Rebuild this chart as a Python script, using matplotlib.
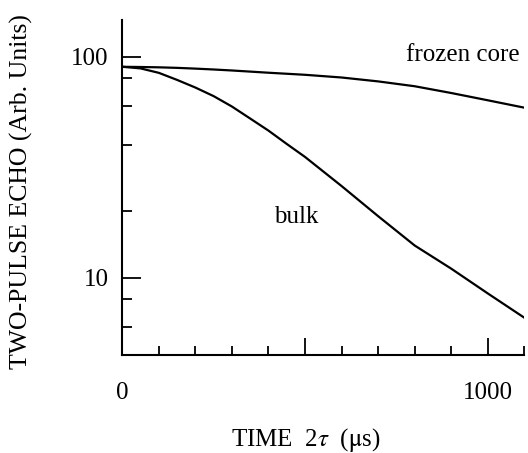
import numpy as np
import matplotlib
matplotlib.use("Agg")
import matplotlib.pyplot as plt
from matplotlib.ticker import FixedLocator, NullFormatter

plt.rcParams['font.family'] = ['Liberation Serif', 'DejaVu Serif']
plt.rcParams['mathtext.fontset'] = 'stix'

# time 2tau in microseconds
time_us = [0, 50, 100, 150, 200, 250, 300, 350, 400, 450, 500,
           600, 700, 800, 900, 1000, 1100]
# echo amplitudes
frozen_core = [90, 89.8, 89.5, 89.0, 88.3, 87.5, 86.6, 85.6, 84.6, 83.7, 82.8,
               80.5, 77.3, 73.5, 68.5, 63.5, 58.8]
bulk = [90, 88.5, 84.5, 78.5, 72.5, 66.3, 59.5, 52.5, 46.3, 40.3, 35.2,
        26.0, 19.0, 14.0, 11.0, 8.5, 6.6]

x_major = [0, 500, 1000]
x_major_labels = ['0', '', '1000']
x_minor = [100, 200, 300, 400, 600, 700, 800, 900, 1100]
y_major = [10, 100]
y_major_labels = ['10', '100']
y_minor = [6, 8, 20, 40, 60, 80]

fig = plt.figure(figsize=(5.28, 4.53), dpi=100)
ax = fig.add_axes([0.2316, 0.217, 0.993 - 0.2316, 0.956 - 0.217])

ax.plot(time_us, frozen_core, color='black', lw=1.6)
ax.plot(time_us, bulk, color='black', lw=1.6)

ax.set_yscale('log')
ax.set_xlim(0, 1100)
ax.set_ylim(4.49, 146.6)

ax.xaxis.set_major_locator(FixedLocator(x_major))
ax.set_xticklabels(x_major_labels)
ax.xaxis.set_minor_locator(FixedLocator(x_minor))
ax.yaxis.set_major_locator(FixedLocator(y_major))
ax.set_yticklabels(y_major_labels)
ax.yaxis.set_minor_locator(FixedLocator(y_minor))
ax.yaxis.set_minor_formatter(NullFormatter())

for s in ['top', 'right']:
    ax.spines[s].set_visible(False)
for s in ['left', 'bottom']:
    ax.spines[s].set_linewidth(1.5)

ax.tick_params(axis='x', which='major', direction='in', length=12.5, width=1.3, pad=20, labelsize=18)
ax.tick_params(axis='x', which='minor', direction='in', length=6.5, width=1.3)
ax.tick_params(axis='y', which='major', direction='in', length=13.5, width=1.3, pad=10, labelsize=18)
ax.tick_params(axis='y', which='minor', direction='in', length=7, width=1.3)

ax.set_xlabel(r'TIME  2$\tau$  ($\mathrm{\mu}$s)', fontsize=18, va='baseline')
ax.xaxis.set_label_coords(0.457, -0.274)
ax.set_ylabel('TWO-PULSE ECHO (Arb. Units)', fontsize=18.5)
ax.yaxis.set_label_coords(-0.222, 0.488)

ax.text(932, 101.8, 'frozen core', fontsize=18, ha='center', va='center')
ax.text(477, 18.9, 'bulk', fontsize=18, ha='center', va='center')

plt.savefig('out.png', dpi=100)
